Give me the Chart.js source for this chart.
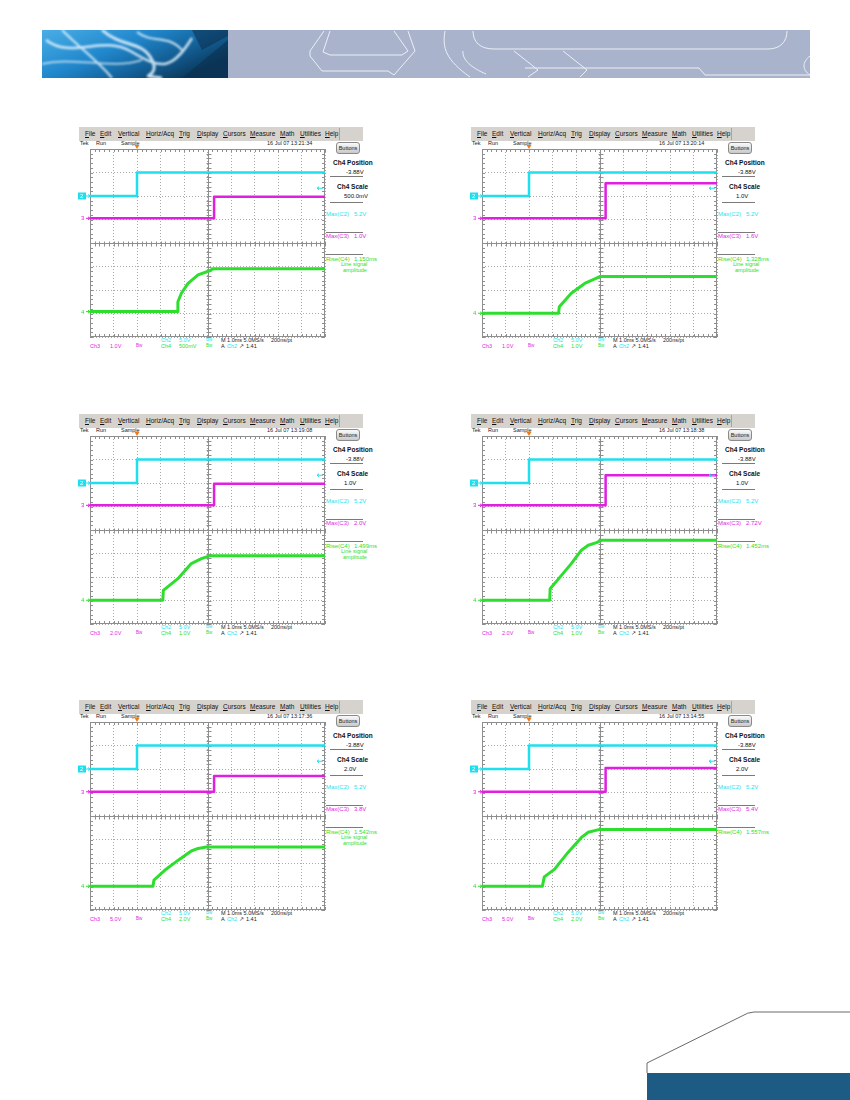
<!DOCTYPE html>
<html>
<head>
<meta charset="utf-8">
<script src="https://cdn.jsdelivr.net/npm/chart.js@4.4.1/dist/chart.umd.min.js"></script>
<style>
html, body { margin: 0; padding: 0; background: #fff; }
body { width: 850px; height: 1100px; position: relative; overflow: hidden; font-family: "Liberation Sans", Arial, sans-serif; }
.abs { position: absolute; white-space: nowrap; line-height: 1; font-size: 6.5px; }
.bar { position: absolute; background: #d6d3ce; }
.rule { position: absolute; height: 1px; background: #7a7a7a; }
.btn { position: absolute; border: 1px solid #8a8a8a; border-radius: 3px; background: linear-gradient(#fafafa, #c9c9c9); font-size: 5.5px; text-align: center; line-height: 10px; color: #222; }
canvas { position: absolute; }
</style>
</head>
<body>

<svg class="abs" style="left:42px;top:30px" width="768" height="48">
  <defs>
    <linearGradient id="bl" x1="0" y1="0" x2="1" y2="0.6">
      <stop offset="0" stop-color="#49aee6"/>
      <stop offset="0.45" stop-color="#2187cc"/>
      <stop offset="0.75" stop-color="#135f96"/>
      <stop offset="1" stop-color="#0b3a5e"/>
    </linearGradient>
    <filter id="soft"><feGaussianBlur stdDeviation="1.2"/></filter>
  </defs>
  <rect x="186" y="0" width="582" height="48" fill="#a9b4cc"/>
  <rect x="0" y="0" width="186" height="48" fill="url(#bl)"/>
  <g stroke="#e8f6ff" fill="none" filter="url(#soft)" opacity="0.85">
    <path d="M4 10 C 30 30, 60 4, 90 22 S 130 40, 150 8" stroke-width="2.5"/>
    <path d="M20 0 C 40 20, 55 30, 70 48" stroke-width="2"/>
    <path d="M60 0 C 80 18, 100 10, 110 30 S 90 44, 120 48" stroke-width="3"/>
    <path d="M0 34 C 30 26, 70 40, 100 30" stroke-width="1.5"/>
    <path d="M95 2 C 110 14, 126 4, 140 20" stroke-width="2"/>
  </g>
  <g fill="#0a2f4e" opacity="0.55">
    <path d="M140 48 L 186 10 L 186 48 Z"/>
    <path d="M150 0 L 186 0 L 186 6 L 160 20 Z"/>
  </g>
  <g stroke="#f2f5fa" stroke-width="1" fill="none" opacity="0.9">
    <path d="M282 1 L 268 21 L 268 26 L 280 41 L 346 41 L 352 45 L 373 21 L 366 1"/>
    <path d="M288 1 L 281 22 L 288 25 L 360 25 L 366 21 L 352 1"/>
    <path d="M403 1 C 400 18, 404 30, 428 47"/>
    <path d="M431 1 C 431 12, 438 19, 452 19 L 726 19 C 738 19, 745 12, 745 1"/>
    <path d="M421 21 C 420 30, 430 38, 444 44"/>
    <path d="M472 21 L 496 40 L 486 47"/>
    <path d="M521 21 L 545 40 L 538 47"/>
    <path d="M483 38 L 657 38 L 663 45 L 768 45"/>
    <path d="M768 26 C 760 32, 760 40, 768 45"/>
  </g>
</svg>

<svg class="abs" style="left:640px;top:1000px" width="210" height="100">
  <path d="M7 73 L 7 63 L 100 17 Q 108 12, 114 12 L 210 12" fill="#fff" stroke="#6a6a6a" stroke-width="1"/>
  <rect x="7" y="73" width="203" height="27" fill="#1d5a84"/>
</svg>

<script>
// scope readings, one entry per screenshot (left-right, top-bottom)
const dates = ["16 Jul 07 13:21:34", "16 Jul 07 13:20:14", "16 Jul 07 13:19:08",
               "16 Jul 07 13:18:38", "16 Jul 07 13:17:36", "16 Jul 07 13:14:55"];
const ch4Position = ["-3.88V", "-3.88V", "-3.88V", "-3.88V", "-3.88V", "-3.88V"];
const ch4Scale = ["500.0mV", "1.0V", "1.0V", "1.0V", "2.0V", "2.0V"];
const maxC2 = ["5.2V", "5.2V", "5.2V", "5.2V", "5.2V", "5.2V"];
const maxC3 = ["1.0V", "1.6V", "2.0V", "2.72V", "3.8V", "5.4V"];
const riseC4 = ["1.150ms", "1.328ms", "1.499ms", "1.452ms", "1.542ms", "1.557ms"];
const lineSignalNote = [true, true, true, false, true, false];
const ch3Volts = ["1.0V", "1.0V", "2.0V", "2.0V", "5.0V", "5.0V"];
const ch2Volts = ["5.0V", "5.0V", "5.0V", "5.0V", "5.0V", "5.0V"];
const ch4Volts = ["500mV", "1.0V", "1.0V", "1.0V", "2.0V", "2.0V"];

// traces in screen divisions (0 = centre), time in ms from trigger
const cyanLow = [2.0, 2.0, 2.0, 2.0, 2.0, 2.0];
const cyanHigh = [3.0, 3.0, 3.0, 3.0, 3.0, 3.0];
const cyanStepMs = [0, 0, 0, 0, 0, 0];
const magentaLow = [1.05, 1.05, 1.05, 1.05, 1.03, 1.03];
const magentaHigh = [1.97, 2.54, 1.97, 2.33, 1.70, 2.04];
const magentaStepMs = [3.28, 3.26, 3.28, 3.26, 3.28, 3.26];
const greenMs = [
  [-2, 1.71, 1.74, 1.89, 2.17, 2.60, 3.09, 3.23, 8],
  [-2, 1.26, 1.29, 1.80, 2.37, 2.80, 3.01, 8],
  [-2, 1.10, 1.12, 1.74, 2.31, 2.74, 3.09, 8],
  [-2, 0.88, 0.90, 1.38, 1.80, 2.23, 2.52, 2.87, 3.08, 8],
  [-2, 0.68, 0.72, 1.18, 1.74, 2.31, 2.60, 2.95, 8],
  [-2, 0.57, 0.65, 1.09, 1.66, 2.23, 2.52, 3.01, 8]
];
const greenDiv = [
  [-2.92, -2.92, -2.50, -2.14, -1.72, -1.36, -1.18, -1.10, -1.10],
  [-2.99, -2.99, -2.71, -2.14, -1.72, -1.53, -1.43, -1.43],
  [-2.99, -2.99, -2.57, -2.07, -1.43, -1.22, -1.10, -1.10],
  [-2.99, -2.99, -2.50, -1.93, -1.43, -0.86, -0.65, -0.54, -0.44, -0.44],
  [-2.99, -2.99, -2.73, -2.31, -1.89, -1.49, -1.38, -1.32, -1.32],
  [-2.99, -2.99, -2.59, -2.26, -1.55, -0.91, -0.69, -0.57, -0.57]
];
const menuItems = ["File", "Edit", "Vertical", "Horiz/Acq", "Trig", "Display", "Cursors", "Measure", "Math", "Utilities", "Help"];

const CYAN = "#1fdfee";
const MAGENTA = "#e11fe1";
const GREEN = "#2ede2e";
const panelX = [78, 470];
const panelY = [125, 412, 698];
const menuX = [7, 22, 40, 68, 101, 119, 145, 172, 202, 222, 247];

function put(x, y, s, css) {
  const e = document.createElement("div");
  e.className = "abs";
  e.style.left = x + "px";
  e.style.top = (y - 3.3) + "px";
  if (css) e.style.cssText += css;
  e.textContent = s;
  document.body.appendChild(e);
  return e;
}
function box(cls, x, y, w, h) {
  const e = document.createElement("div");
  e.className = cls;
  e.style.left = x + "px";
  e.style.top = y + "px";
  e.style.width = w + "px";
  if (h !== undefined) e.style.height = h + "px";
  document.body.appendChild(e);
  return e;
}

const graticule = {
  id: "graticule",
  beforeDatasetsDraw(chart) {
    const { ctx, chartArea: a, scales: { x, y } } = chart;
    ctx.save();
    ctx.strokeStyle = "#8e8e8e";
    ctx.lineWidth = 1;
    ctx.strokeRect(a.left + 0.5, a.top + 0.5, a.width - 1, a.height - 1);
    const cx = Math.round(x.getPixelForValue(3)) + 0.5;
    const cy = Math.round(y.getPixelForValue(0)) + 0.5;
    ctx.beginPath();
    ctx.moveTo(cx, a.top); ctx.lineTo(cx, a.bottom);
    ctx.moveTo(a.left, cy); ctx.lineTo(a.right, cy);
    for (let k = 0; k <= 50; k++) {
      const px = Math.round(x.getPixelForValue(-2 + k * 0.2)) + 0.5;
      ctx.moveTo(px, cy - 2); ctx.lineTo(px, cy + 3);
      ctx.moveTo(px, a.top); ctx.lineTo(px, a.top + 3);
      ctx.moveTo(px, a.bottom); ctx.lineTo(px, a.bottom - 3);
    }
    for (let k = 0; k <= 40; k++) {
      const py = Math.round(y.getPixelForValue(-4 + k * 0.2)) + 0.5;
      ctx.moveTo(cx - 2, py); ctx.lineTo(cx + 3, py);
      ctx.moveTo(a.left, py); ctx.lineTo(a.left + 3, py);
      ctx.moveTo(a.right, py); ctx.lineTo(a.right - 3, py);
    }
    ctx.stroke();
    ctx.restore();
  },
  afterDatasetsDraw(chart, args, opts) {
    const { ctx, chartArea: a, scales: { x, y } } = chart;
    ctx.save();
    // trigger position
    const tx = x.getPixelForValue(0);
    ctx.fillStyle = "#f07a1a";
    ctx.beginPath();
    ctx.moveTo(tx - 2.5, a.top - 4); ctx.lineTo(tx + 2.5, a.top - 4); ctx.lineTo(tx, a.top);
    ctx.fill();
    ctx.font = "6px 'Liberation Sans', Arial";
    ctx.textBaseline = "middle";
    // ground markers
    const y2 = y.getPixelForValue(opts.c2);
    ctx.fillStyle = CYAN;
    ctx.fillRect(a.left - 12, y2 - 3.5, 8, 7);
    ctx.fillStyle = "#fff";
    ctx.fillText("2", a.left - 10, y2 + 0.5);
    const marks = [[y2, CYAN, null], [y.getPixelForValue(opts.c3), MAGENTA, "3"], [y.getPixelForValue(opts.c4), GREEN, "4"]];
    marks.forEach(([py, col, lab]) => {
      ctx.strokeStyle = col; ctx.fillStyle = col;
      if (lab) ctx.fillText(lab, a.left - 9, py + 0.5);
      ctx.beginPath();
      ctx.moveTo(a.left - 4, py); ctx.lineTo(a.left, py);
      ctx.moveTo(a.left - 2, py - 1.5); ctx.lineTo(a.left, py); ctx.lineTo(a.left - 2, py + 1.5);
      ctx.stroke();
    });
    // ch4 offset arrow on the right
    const ry = y.getPixelForValue(opts.right);
    ctx.strokeStyle = CYAN;
    ctx.beginPath();
    ctx.moveTo(a.right - 8, ry); ctx.lineTo(a.right - 2, ry);
    ctx.moveTo(a.right - 6, ry - 1.5); ctx.lineTo(a.right - 8, ry); ctx.lineTo(a.right - 6, ry + 1.5);
    ctx.stroke();
    ctx.restore();
  }
};

function stepPoints(low, high, at) {
  return [{ x: -2, y: low }, { x: at, y: low }, { x: at, y: high }, { x: 8, y: high }];
}

for (let i = 0; i < 6; i++) {
  const ox = panelX[i % 2], oy = panelY[Math.floor(i / 2)];

  // menu + status line
  box("bar", ox + 1, oy + 2, 284, 14);
  box("rule", ox + 261, oy + 3, 1, 12).style.background = "#a9a59e";
  menuItems.forEach((m, k) => {
    const e = put(ox + menuX[k], oy + 9.5, "", "color:#111;font-size:6.5px;");
    e.innerHTML = "<u>" + m[0] + "</u>" + m.slice(1);
  });
  put(ox + 2, oy + 19, "Tek", "font-size:5.5px;color:#222;");
  put(ox + 18, oy + 19, "Run", "font-size:5.5px;color:#222;");
  put(ox + 43, oy + 19, "Sample", "font-size:5.5px;color:#222;");
  put(ox + 189, oy + 19, dates[i], "font-size:5.5px;color:#222;");

  // right hand control panel
  const b = box("btn", ox + 258, oy + 17, 22, 10);
  b.textContent = "Buttons";
  put(ox + 255, oy + 38, "Ch4 Position", "font-weight:bold;color:#111;");
  put(ox + 268, oy + 47, ch4Position[i], "font-size:6px;color:#111;");
  box("rule", ox + 252, oy + 51, 33);
  put(ox + 259, oy + 62, "Ch4 Scale", "font-weight:bold;color:#111;");
  put(ox + 266, oy + 71, ch4Scale[i], "font-size:6px;color:#111;");
  box("rule", ox + 252, oy + 77, 33);
  put(ox + 248, oy + 89, "Max(C2)", "color:" + CYAN + ";font-size:6px;");
  put(ox + 276, oy + 89, maxC2[i], "color:" + CYAN + ";font-size:6px;");
  box("rule", ox + 248, oy + 107, 37);
  put(ox + 248, oy + 111, "Max(C3)", "color:" + MAGENTA + ";font-size:6px;");
  put(ox + 276, oy + 111, maxC3[i], "color:" + MAGENTA + ";font-size:6px;");
  box("rule", ox + 248, oy + 129, 37);
  put(ox + 248, oy + 134, "Rise(C4)", "color:" + GREEN + ";font-size:6px;");
  put(ox + 276, oy + 134, riseC4[i], "color:" + GREEN + ";font-size:6px;");
  if (lineSignalNote[i]) {
    put(ox + 263, oy + 140, "Line signal", "color:" + GREEN + ";font-size:5.5px;");
    put(ox + 265, oy + 146.5, "amplitude", "color:" + GREEN + ";font-size:5.5px;");
  }

  // readout lines under the graticule
  const r1 = oy + 216, r2 = oy + 222;
  const sm = "font-size:5.5px;";
  put(ox + 83, r1, "Ch2", sm + "color:" + CYAN);
  put(ox + 101, r1, ch2Volts[i], sm + "color:" + CYAN);
  put(ox + 128, r1, "Bw", "font-size:4.5px;color:" + CYAN);
  put(ox + 143, r1, "M 1.0ms 5.0MS/s", sm + "color:#222");
  put(ox + 193, r1, "200ns/pt", sm + "color:#222");
  put(ox + 12, r2, "Ch3", sm + "color:" + MAGENTA);
  put(ox + 32, r2, ch3Volts[i], sm + "color:" + MAGENTA);
  put(ox + 58, r2, "Bw", "font-size:4.5px;color:" + MAGENTA);
  put(ox + 83, r2, "Ch4", sm + "color:" + GREEN);
  put(ox + 101, r2, ch4Volts[i], sm + "color:" + GREEN);
  put(ox + 128, r2, "Bw", "font-size:4.5px;color:" + GREEN);
  put(ox + 143, r2, "A", sm + "color:#222");
  put(ox + 149, r2, "Ch2", sm + "color:" + CYAN);
  put(ox + 161, r2, "\u2197", sm + "color:#222");
  put(ox + 168, r2, "1.41", sm + "color:#222");

  // scope graticule + traces
  const cv = document.createElement("canvas");
  cv.width = 250; cv.height = 196;
  cv.style.left = ox + "px"; cv.style.top = (oy + 20) + "px";
  document.body.appendChild(cv);

  new Chart(cv, {
    type: "line",
    data: {
      datasets: [
        { data: stepPoints(cyanLow[i], cyanHigh[i], cyanStepMs[i]), borderColor: CYAN, borderWidth: 2.5 },
        { data: stepPoints(magentaLow[i], magentaHigh[i], magentaStepMs[i]), borderColor: MAGENTA, borderWidth: 2.5 },
        { data: greenMs[i].map((t, k) => ({ x: t, y: greenDiv[i][k] })), borderColor: GREEN, borderWidth: 3 }
      ]
    },
    options: {
      responsive: false,
      animation: false,
      parsing: false,
      layout: { padding: { left: 12, top: 4, right: 3, bottom: 4 } },
      elements: { point: { radius: 0 }, line: { tension: 0, borderJoinStyle: "round" } },
      scales: {
        x: {
          type: "linear", min: -2, max: 8,
          ticks: { display: false, stepSize: 1 },
          grid: { color: "#a9a9a9", lineWidth: 1, drawTicks: false },
          border: { display: false, dash: [1, 2] }
        },
        y: {
          type: "linear", min: -4, max: 4,
          ticks: { display: false, stepSize: 1 },
          grid: { color: "#a9a9a9", lineWidth: 1, drawTicks: false },
          border: { display: false, dash: [1, 2] }
        }
      },
      plugins: {
        legend: { display: false },
        tooltip: { enabled: false },
        graticule: { c2: cyanLow[i], c3: magentaLow[i], c4: greenDiv[i][0], right: 2.33 }
      }
    },
    plugins: [graticule]
  });
}
</script>
</body>
</html>
